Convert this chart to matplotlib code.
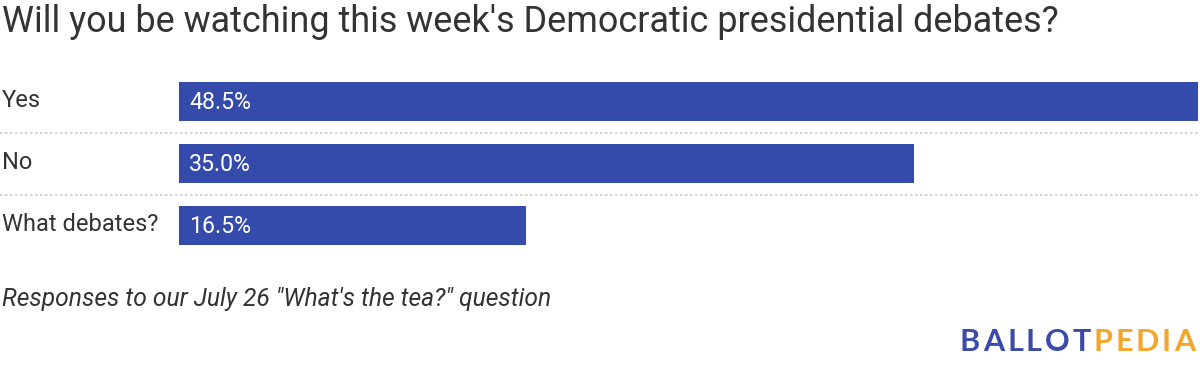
import matplotlib
matplotlib.use("Agg")
import matplotlib.pyplot as plt
from matplotlib.transforms import blended_transform_factory

plt.rcParams['font.family'] = ['Roboto', 'DejaVu Sans']

categories = ['Yes', 'No', 'What debates?']
values = [48.5, 35.0, 16.5]
value_labels = ['48.5%', '35.0%', '16.5%']

title = "Will you be watching this week's Democratic presidential debates?"
note = 'Responses to our July 26 "What\'s the tea?" question'

bar_color = '#354bab'
text_color = '#333333'

W, H = 1200, 368
fig = plt.figure(figsize=(W / 100, H / 100), dpi=100)

# axes placed in pixel terms: bars start at x=179, longest bar ends at 1198
left, right = 179, 1198
top, bottom = 70.5, 256.5
ax = fig.add_axes([left / W, 1 - bottom / H, (right - left) / W, (bottom - top) / H])
ax.set_xlim(0, max(values))
ax.set_ylim(len(categories) - 0.5, -0.5)
ax.axis('off')

ypos = list(range(len(categories)))
ax.barh(ypos, values, height=39 / 62, color=bar_color, linewidth=0)

for y, lab in zip(ypos, value_labels):
    ax.text(max(values) * 10 / (right - left), y + 0.02, lab, color='white', fontsize=16.7,
            va='center', ha='left')

trans = blended_transform_factory(fig.transFigure, ax.transData)
for y, cat in zip(ypos, categories):
    ax.text(2 / W, y - 0.02, cat, transform=trans, color=text_color, fontsize=17,
            va='center', ha='left')

# dotted separators between rows
for y in ypos[:-1]:
    ax.axhline(y + 0.5, xmin=-left / (right - left), xmax=1.0, color='#cccccc',
               linestyle=(0, (1.5, 1.5)), linewidth=1.2, clip_on=False)

fig.text(2 / W, 1 - 22 / H, title, fontsize=25.9, color=text_color, va='center', ha='left')
fig.text(2 / W, 1 - 299 / H, note, fontsize=17.75, color=text_color, style='italic',
         va='center', ha='left')

# logo with letter spacing, right aligned
logo_parts = [('BALLOT', '#3a4ba8'), ('PEDIA', '#f4a62a')]
fig.canvas.draw()
renderer = fig.canvas.get_renderer()
spacing = 2.9
letters = [(ch, col) for word, col in logo_parts for ch in word]
widths = []
for ch, col in letters:
    t = fig.text(0, 0, ch, fontsize=22, fontweight='bold', family=['Lato', 'DejaVu Sans'])
    widths.append(t.get_window_extent(renderer).width)
    t.remove()
total = sum(widths) + spacing * (len(letters) - 1)
x = 1195 - total
for (ch, col), w in zip(letters, widths):
    fig.text(x / W, 1 - 342 / H, ch, fontsize=22, fontweight='bold', color=col,
             family=['Lato', 'DejaVu Sans'], va='center', ha='left')
    x += w + spacing

fig.savefig('out.png', dpi=100, facecolor='white')
